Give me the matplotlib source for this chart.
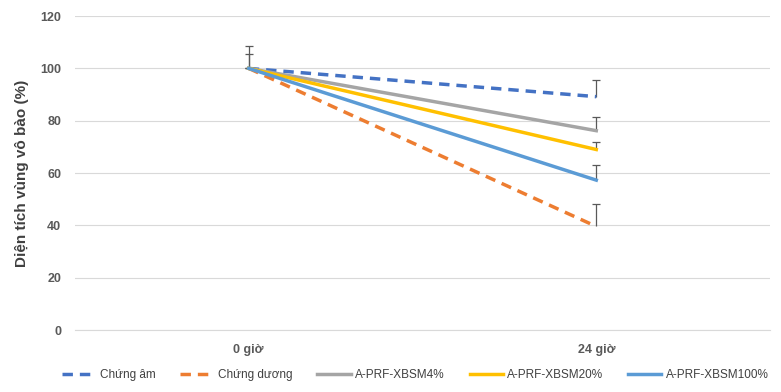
import numpy as np
import matplotlib
matplotlib.use('Agg')
import matplotlib.pyplot as plt

plt.rcParams['font.family'] = ['Liberation Sans', 'DejaVu Sans']

categories = ['0 giờ', '24 giờ']
series_names = ['Chứng âm', 'Chứng dương', 'A-PRF-XBSM4%', 'A-PRF-XBSM20%', 'A-PRF-XBSM100%']
values = [
    [100, 89.2],
    [100, 39.6],
    [100, 76.2],
    [100, 69.0],
    [100, 57.3],
]
err_up = [
    [8.5, 6.3],
    [5.5, 8.5],
    [0, 5.2],
    [0, 3.0],
    [0, 5.6],
]
colors = ['#4472C4', '#ED7D31', '#A5A5A5', '#FFC000', '#5B9BD5']
styles = ['--', '--', '-', '-', '-']

fig = plt.figure(figsize=(7.81, 3.92), dpi=100)
ax = fig.add_axes([0.096, 0.158, 0.89, 0.801])

x = np.arange(len(categories))
for name, vals, err, c, ls in zip(series_names, values, err_up, colors, styles):
    ax.plot(x, vals, color=c, linestyle=ls, linewidth=2.5, label=name,
            dashes=(3, 2) if ls == '--' else (None, None), zorder=3)
    vals = np.array(vals, dtype=float)
    tops = vals + np.array(err)
    ax.vlines(x, vals, tops, color='#595959', linewidth=0.9, zorder=2)
    ax.plot(x, tops, linestyle='none', marker='_', markersize=6,
            markeredgewidth=0.9, color='#595959', zorder=2)

ax.set_xlim(-0.5, 1.5)
ax.set_ylim(0, 120)
ax.set_xticks(x)
ax.set_xticklabels(categories)
ax.set_yticks(np.arange(0, 121, 20))
ax.yaxis.grid(True, color='#D9D9D9', linewidth=0.8)
ax.set_axisbelow(True)
for s in ['top', 'right', 'left']:
    ax.spines[s].set_visible(False)
ax.spines['bottom'].set_color('#D9D9D9')
ax.tick_params(axis='both', length=0, labelsize=9, labelcolor='#595959', pad=10)
for lbl in ax.get_xticklabels() + ax.get_yticklabels():
    lbl.set_fontweight('bold')
ax.set_ylabel('Diện tích vùng vô bào (%)', fontsize=11, color='#404040',
              fontweight='bold', labelpad=8)

ax.legend(loc='upper center', bbox_to_anchor=(0.49, -0.09), ncol=5, frameon=False,
          fontsize=8.5, handlelength=2.8, handletextpad=0.4, columnspacing=2.1,
          labelcolor='#404040')

fig.savefig('out.png', dpi=100)
